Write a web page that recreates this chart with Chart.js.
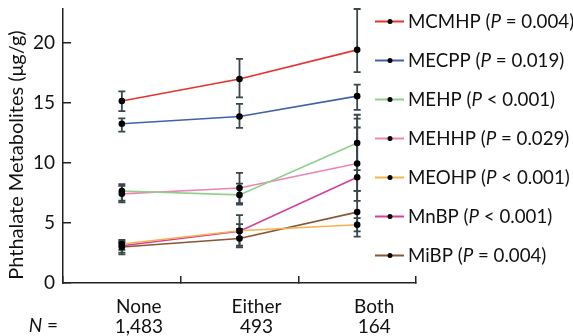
<!DOCTYPE html>
<html>
<head>
<meta charset="utf-8">
<script src="https://cdn.jsdelivr.net/npm/chart.js@4.4.1/dist/chart.umd.min.js"></script>
<style>
  html, body { margin: 0; padding: 0; background: #fff; }
  #wrap { width: 573px; height: 336px; }
</style>
</head>
<body>
<div id="wrap"><canvas id="chartCanvas"></canvas></div>
<script>
// data (geometric means with 95% CI)
const categories = ['None', 'Either', 'Both'];
const groupSizes = ['1,483', '493', '164'];
const metabolites = ['MCMHP', 'MECPP', 'MEHP', 'MEHHP', 'MEOHP', 'MnBP', 'MiBP'];
const pOps = ['=', '=', '<', '=', '<', '<', '='];
const pValues = ['0.004', '0.019', '0.001', '0.029', '0.001', '0.001', '0.004'];
const colors = ['#e8322e', '#3f63a8', '#8dd08a', '#ee84b4', '#f6b24c', '#d43f9e', '#8a5535'];

const means = [
    [15.15, 16.97, 19.4],
    [13.25, 13.86, 15.55],
    [7.65, 7.33, 11.65],
    [7.42, 7.9, 9.95],
    [3.25, 4.35, 4.85],
    [3.1, 4.3, 8.8],
    [3.0, 3.7, 5.9]
];
const lowerCI = [
    [14.3, 15.45, 17.55],
    [12.6, 12.9, 14.4],
    [6.86, 6.52, 9.4],
    [6.72, 6.65, 7.67],
    [2.75, 3.8, 4.3],
    [2.52, 3.1, 6.83],
    [2.39, 2.97, 3.86]
];
const upperCI = [
    [15.95, 18.65, 22.8],
    [13.7, 14.9, 16.5],
    [8.22, 8.27, 14.0],
    [8.08, 9.17, 12.94],
    [3.58, 4.9, 5.4],
    [3.44, 5.65, 13.67],
    [3.35, 4.5, 7.67]
];
const yTicks = [0, 5, 10, 15, 20];

const FONT = 'Lato';
const TEXT = '#111';

const errorBars = {
    id: 'errorBars',
    beforeDatasetsDraw(chart) {
        const ctx = chart.ctx;
        const x = chart.scales.x, y = chart.scales.y;
        const area = chart.chartArea;
        ctx.save();
        ctx.beginPath();
        ctx.rect(area.left, area.top - 1, area.right - area.left, area.bottom - area.top + 1);
        ctx.clip();
        ctx.strokeStyle = '#39464a';
        ctx.lineWidth = 1.8;
        lowerCI.forEach((row, i) => {
            row.forEach((lo, j) => {
                const px = x.getPixelForValue(j);
                const y1 = y.getPixelForValue(lo);
                const y2 = y.getPixelForValue(upperCI[i][j]);
                ctx.beginPath();
                ctx.moveTo(px, y1); ctx.lineTo(px, y2);
                ctx.moveTo(px - 3.5, y1); ctx.lineTo(px + 3.5, y1);
                ctx.moveTo(px - 3.5, y2); ctx.lineTo(px + 3.5, y2);
                ctx.stroke();
            });
        });
        ctx.restore();
    }
};

const extraText = {
    id: 'extraText',
    afterDraw(chart) {
        const ctx = chart.ctx;
        ctx.save();
        ctx.fillStyle = TEXT;
        ctx.textBaseline = 'middle';

        // y axis title
        ctx.save();
        ctx.translate(17, 155);
        ctx.rotate(-Math.PI / 2);
        ctx.textAlign = 'center';
        ctx.font = '20px ' + FONT;
        ctx.fillText('Phthalate Metabolites (\u03bcg/g)', 0, 0);
        ctx.restore();

        // "N =" in front of the group sizes
        ctx.textAlign = 'right';
        ctx.font = '19px ' + FONT;
        ctx.fillText(' =', 58, 326);
        const w = ctx.measureText(' =').width;
        ctx.font = 'italic 19px ' + FONT;
        ctx.fillText('N', 58 - w, 326);

        // legend
        ctx.textAlign = 'left';
        chart.data.datasets.forEach((ds, i) => {
            const ly = 21.5 + i * 39;
            ctx.strokeStyle = ds.borderColor;
            ctx.lineWidth = 2;
            ctx.beginPath();
            ctx.moveTo(375, ly); ctx.lineTo(404, ly);
            ctx.stroke();
            ctx.fillStyle = '#000';
            ctx.beginPath();
            ctx.arc(390, ly, 2.5, 0, Math.PI * 2);
            ctx.fill();
            ctx.fillStyle = TEXT;
            let lx = 408;
            const parts = [
                [metabolites[i] + ' (', false],
                ['P', true],
                [' ' + pOps[i] + ' ' + pValues[i] + ')', false]
            ];
            parts.forEach(([t, italic]) => {
                ctx.font = (italic ? 'italic ' : '') + '18.7px ' + FONT;
                ctx.fillText(t, lx, ly);
                lx += ctx.measureText(t).width;
            });
        });
        ctx.restore();
    }
};

const ctx = document.getElementById('chartCanvas').getContext('2d');
const chart = new Chart(ctx, {
    type: 'line',
    data: {
        labels: categories.map((c, i) => [c, groupSizes[i]]),
        datasets: metabolites.map((name, i) => ({
            label: name,
            data: means[i],
            borderColor: colors[i],
            backgroundColor: colors[i],
            borderWidth: 1.6,
            pointRadius: 3.3,
            pointBorderWidth: 0,
            pointBackgroundColor: '#000',
            fill: false,
            tension: 0
        }))
    },
    plugins: [errorBars, extraText],
    options: {
        responsive: true,
        maintainAspectRatio: false,
        animation: false,
        layout: { padding: { left: 0, top: 9, right: 157, bottom: 0 } },
        plugins: {
            legend: { display: false },
            tooltip: { enabled: false }
        },
        scales: {
            x: {
                type: 'category',
                offset: true,
                afterFit: s => { s.height = 53; s.paddingLeft = 0; s.paddingRight = 0; },
                border: { color: '#222', width: 1.5 },
                grid: {
                    offset: true,
                    drawOnChartArea: false,
                    tickLength: -7,
                    color: '#222',
                    lineWidth: 1.5
                },
                ticks: {
                    color: TEXT,
                    padding: 21,
                    labelOffset: 17,
                    maxRotation: 0,
                    autoSkip: false,
                    font: { family: FONT, size: 19, lineHeight: 1.05 }
                }
            },
            y: {
                min: 0,
                max: 22.8,
                afterFit: s => { s.width = 63; s.paddingTop = 0; s.paddingBottom = 0; },
                afterBuildTicks: s => { s.ticks = yTicks.map(v => ({ value: v })); },
                border: { color: '#222', width: 1.5 },
                grid: {
                    drawOnChartArea: false,
                    tickLength: -8,
                    color: '#222',
                    lineWidth: 1.5
                },
                ticks: {
                    color: TEXT,
                    padding: 16,
                    font: { family: FONT, size: 19, lineHeight: 1 }
                }
            }
        }
    }
});
</script>
</body>
</html>
